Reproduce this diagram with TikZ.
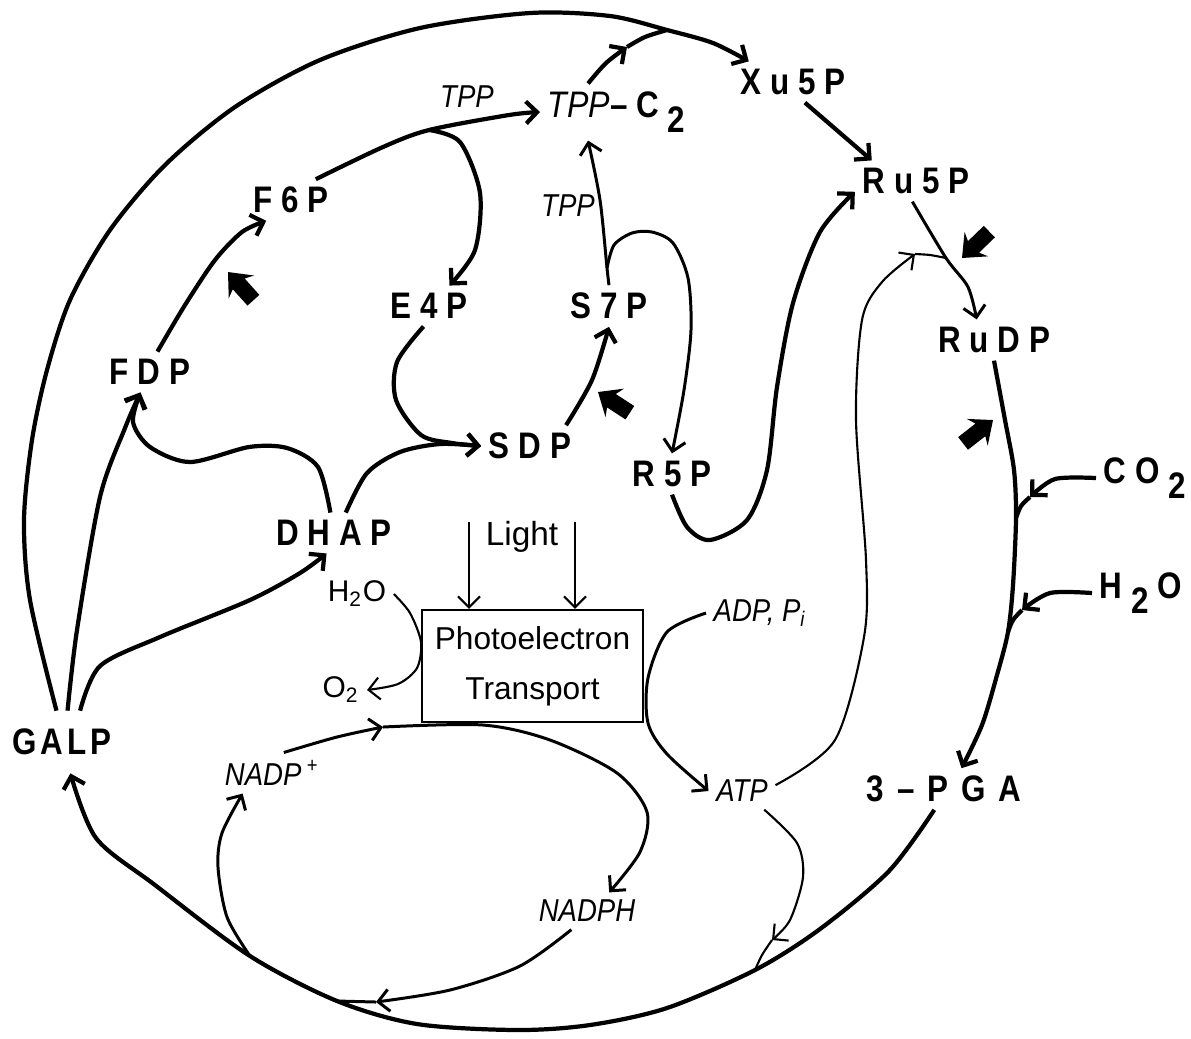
\documentclass[tikz,border=0pt]{standalone}
\usepackage{fontspec}
\setmainfont{Liberation Sans}
\newfontfamily\metfont[FakeStretch=0.85,LetterSpace=24]{Liberation Sans}
\newfontfamily\coffont[FakeStretch=0.87]{Liberation Sans}
\usetikzlibrary{arrows.meta,positioning}
\newcommand{\lw}[1]{\hspace{2.5pt}\raisebox{-4.5pt}{#1}\hspace{2.5pt}}
\tikzstyle{met} = [font=\metfont\bfseries\fontsize{10.5}{12}\selectfont, inner sep=2pt]
\tikzstyle{cof} = [font=\coffont\itshape\fontsize{9}{10}\selectfont, inner sep=2pt]
\tikzstyle{sml} = [font=\fontsize{8.5}{10}\selectfont, inner sep=2pt]
\tikzstyle{hvy} = [line width=1.2pt]
\tikzstyle{med} = [line width=0.85pt]
\tikzstyle{lgt} = [line width=0.6pt]
\tikzstyle{arr} = [-{Straight Barb[length=1.1mm,width=2.2mm]}]

\begin{document}
\begin{tikzpicture}
		[
			x=0.01cm, y=-0.01cm,
			blk/.pic={\fill (0,0) -- (-20,17) -- (-16,8) -- (-38,8) -- (-38,-8) -- (-16,-8) -- (-20,-17) -- cycle;}
		]
		\useasboundingbox (0,0) rectangle (1191,1038);
		% metabolites
		\node[met, inner ysep=5pt] (galp) at (62,742) {\addfontfeature{LetterSpace=10}GALP};
		\node[met] (fdp) at (150,372) {FDP};
		\node[met] (f6p) at (291,200) {F6P};
		\node[met] (e4p) at (429,306) {E4P};
		\node[met] (sdp) at (530,446) {SDP};
		\node[met] (dhap) at (334,533) {DHAP};
		\node[met] (s7p) at (609,306) {S7P};
		\node[met] (r5p) at (672,474) {R5P};
		\node[met, anchor=base west] (tppc2) at (540,117) {{\coffont\mdseries\itshape TPP}\textendash C\lw{2}};
		\node[met] (xu5p) at (793,82) {Xu5P};
		\node[met] (ru5p) at (916,181) {Ru5P};
		\node[met] (rudp) at (994,340) {RuDP};
		\node[met, anchor=base west] (co2) at (1096,483) {CO\lw{2}};
		\node[met, anchor=base west] (h2ob) at (1092,598) {H\lw{2}O};
		\node[met] (pga) at (944,789) {\addfontfeature{LetterSpace=35}3\textendash PGA};
		% cofactors
		\node[cof] (tppa) at (467,97) {TPP};
		\node[cof] (tppb) at (568,206) {TPP};
		\node[cof] (adp) at (760,613) {ADP, P\textsubscript{i}};
		\node[cof] (atp) at (742,791) {ATP};
		\node[cof] (nadp) at (272,773) {NADP\,\textsuperscript{+}};
		\node[cof] (nadph) at (587,911) {NADPH};
		\node[sml] (wat) at (357,594) {H\textsubscript{2}O};
		\node[sml] (oxy) at (341,690) {O\textsubscript{2}};
		\node[font=\fontsize{9.5}{11}\selectfont] (light) at (522,537) {Light};
		\node[draw, lgt, minimum width=2.21cm, minimum height=1.12cm, inner sep=0pt, align=center, font=\fontsize{9}{14.2}\selectfont] (pet) at (532.5,666) {Photoelectron\\Transport};
		% junctions
		\coordinate (j1) at (627,47);
		\coordinate (j2) at (667,30);
		\coordinate (j3) at (429,130);
		\coordinate (j4) at (607,268);
		\coordinate (j5) at (915,254);
		\coordinate (j6) at (946,258);
		\coordinate (j7) at (1030,497);
		\coordinate (j8) at (1016,518);
		\coordinate (j9) at (1022,610);
		\coordinate (j10) at (1008,632);
		\coordinate (j11) at (772,940);
		\coordinate (j12) at (755,970);
		\coordinate (j13) at (376,1002);
		\coordinate (j14) at (337,1001);
		\coordinate (j15) at (250,956);
		\coordinate (j16) at (383,727);
		\coordinate (j17) at (469,522);
		\coordinate (j18) at (575,522);
		% carbon pathway
		\draw[hvy,arr] plot[smooth] coordinates {(galp.80) (77,630) (100,497) (125,428) (fdp.-115)};
		\draw[hvy,arr] plot[smooth] coordinates {(galp.60) (100,666) (160,637) (250,600) (300,573) (dhap.-110)};
		\draw[hvy,arr] plot[smooth] coordinates {(dhap.100) (318,467) (287,448) (249,447) (190,462) (150,447) (133,422) (fdp.-115)};
		\draw[hvy,arr] plot[smooth] coordinates {(dhap.60) (367,473) (400,452) (440,444) (sdp.west)};
		\draw[hvy,arr] plot[smooth] coordinates {(e4p.-105) (397,362) (396,400) (421,435) (452,443) (sdp.west)};
		\draw[hvy,arr] plot[smooth] coordinates {(fdp.70) (185,305) (215,260) (242,232) (f6p.-140)};
		\draw[hvy,arr] plot[smooth] coordinates {(f6p.40) (383,147) (j3) (509,115) (tppc2.west)};
		\draw[hvy,arr] plot[smooth] coordinates {(j3) (460,142) (480,193) (475,250) (e4p.45)};
		\draw[hvy,arr] plot[smooth] coordinates {(sdp.30) (592,380) (s7p.south)};
		\draw[med,arr] plot[smooth] coordinates {(s7p.north) (j4) (600,200) (tppc2.-135)};
		\draw[med,arr] plot[smooth] coordinates {(j4) (614,245) (632,233) (652,232) (673,243) (688,278) (691,330) (684,390) (r5p.north)};
		\draw[hvy,arr] plot[smooth] coordinates {(r5p.south) (687,527) (710,540) (747,520) (767,470) (777,387) (793,303) (820,232) (ru5p.-170)};
		\draw[hvy,arr] plot[smooth] coordinates {(tppc2.135) (606,63) (j1)};
		\draw[hvy] plot[smooth] coordinates {(j1) (645,37) (j2)};
		\draw[hvy,arr] plot[smooth] coordinates {(galp.100) (30,600) (24,520) (32,440) (47,370) (70,300) (110,230) (165,165) (235,107) (320,60) (420,28) (530,13) (610,16) (j2) (713,43) (xu5p.155)};
		\draw[hvy,arr] (xu5p.-60) -- (ru5p.155);
		\draw[med,arr] plot[smooth] coordinates {(ru5p.-100) (j6) (968,287) (rudp.130)};
		\draw[hvy,arr] plot[smooth] coordinates {(rudp.-90) (1005,420) (1014,470) (j8) (1013,585) (j10) (997,675) (982,725) (pga.50)};
		\draw[hvy,arr] plot[smooth] coordinates {(co2.west) (1055,479) (j7)};
		\draw[hvy] plot[smooth] coordinates {(j7) (1021,506) (j8)};
		\draw[hvy,arr] plot[smooth] coordinates {(h2ob.west) (1050,593) (j9)};
		\draw[hvy] plot[smooth] coordinates {(j9) (1013,620) (j10)};
		\draw[hvy,arr] plot[smooth] coordinates {(pga.-115) (889,871) (820,929) (j12) (667,1008) (590,1025) (517,1030) (417,1024) (j14) (j15) (155,885) (96,838) (galp.-75)};
		% light reactions
		\draw[lgt,arr] (j17) -- (j17 |- pet.north);
		\draw[lgt,arr] (j18) -- (j18 |- pet.north);
		\draw[lgt,arr] plot[smooth] coordinates {(wat.east) (410,613) (421,642) (417,668) (398,684) (oxy.east)};
		\draw[med,arr] plot[smooth] coordinates {(adp.west) (667,632) (648,678) (648,723) (667,754) (atp.west)};
		\draw[lgt,arr] plot[smooth] coordinates {(atp.10) (835,740) (864,637) (866,560) (856,420) (862,320) (882,282) (j5)};
		\draw[lgt] plot[smooth] coordinates {(j5) (930,255) (j6)};
		\draw[lgt,arr] plot[smooth] coordinates {(atp.-40) (797,843) (803,877) (790,920) (j11)};
		\draw[lgt] plot[smooth] coordinates {(j11) (762,955) (j12)};
		\draw[med,arr] plot[smooth] coordinates {(nadp.60) (337,737) (j16)};
		\draw[med,arr] plot[smooth] coordinates {(j16) (483,725) (550,740) (617,773) (647,812) (640,852) (nadph.40)};
		\draw[med,arr] plot[smooth] coordinates {(nadph.-130) (520,966) (450,990) (j13)};
		\draw[med] (j13) -- (j14);
		\draw[med,arr] plot[smooth] coordinates {(j15) (227,917) (218,867) (222,833) (nadp.-145)};
		% activation arrows
		\pic[rotate=132] at (228,272) {blk};
		\pic[rotate=147] at (598,392) {blk};
		\pic[rotate=224] at (962,258) {blk};
		\pic[rotate=38] at (993,420) {blk};
	\end{tikzpicture}
\end{document}
